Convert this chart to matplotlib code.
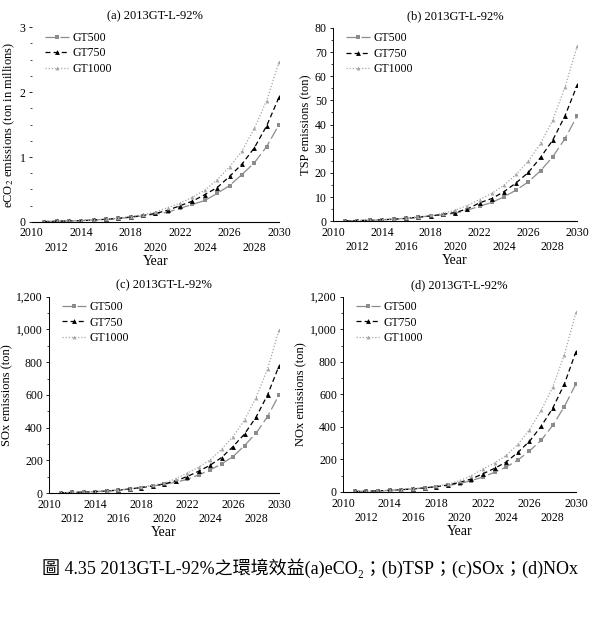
import matplotlib
matplotlib.use("Agg")
import matplotlib.pyplot as plt
from matplotlib.ticker import AutoMinorLocator, FuncFormatter

plt.rcParams['font.family'] = ['Liberation Serif', 'Noto Sans CJK TC', 'DejaVu Serif']
plt.rcParams['mathtext.fontset'] = 'stix'

years = list(range(2011, 2031))
series_names = ["GT500", "GT750", "GT1000"]

# (a) eCO2, ton in millions
eco2_500 = [0.005, 0.01, 0.015, 0.02, 0.03, 0.04, 0.055, 0.07, 0.095, 0.12,
            0.15, 0.21, 0.27, 0.33, 0.44, 0.56, 0.73, 0.91, 1.16, 1.50]
eco2_750 = [0.005, 0.01, 0.015, 0.02, 0.03, 0.04, 0.055, 0.075, 0.10, 0.13,
            0.18, 0.25, 0.32, 0.42, 0.53, 0.70, 0.89, 1.14, 1.48, 1.92]
eco2_1000 = [0.005, 0.01, 0.015, 0.02, 0.03, 0.045, 0.06, 0.08, 0.11, 0.15,
             0.22, 0.29, 0.38, 0.49, 0.65, 0.85, 1.09, 1.44, 1.87, 2.46]

# (b) TSP, ton
tsp_500 = [0.2, 0.3, 0.4, 0.6, 0.9, 1.2, 1.7, 2.2, 2.7, 3.3,
           4.6, 6.2, 7.8, 10.1, 12.9, 16.3, 20.9, 26.7, 34.2, 43.6]
tsp_750 = [0.2, 0.3, 0.4, 0.6, 0.9, 1.2, 1.7, 2.2, 2.9, 3.6,
           5.1, 7.6, 9.4, 12.2, 15.9, 20.2, 26.4, 33.6, 43.6, 56.3]
tsp_1000 = [0.2, 0.3, 0.4, 0.6, 0.9, 1.3, 1.8, 2.4, 3.2, 4.6,
            6.5, 9.0, 11.5, 14.9, 19.4, 24.9, 32.2, 41.9, 55.5, 72.4]

# (c) SOx, ton
sox_500 = [3, 5, 7, 10, 14, 19, 26, 35, 44, 55,
           67, 85, 112, 142, 179, 224, 291, 366, 468, 600]
sox_750 = [3, 5, 7, 10, 14, 19, 26, 35, 45, 57,
           75, 102, 134, 171, 218, 285, 362, 464, 600, 777]
sox_1000 = [3, 5, 7, 10, 14, 20, 27, 37, 48, 61,
            88, 122, 159, 203, 269, 346, 448, 584, 757, 997]

# (d) NOx, ton
nox_500 = [3, 5, 7, 10, 14, 19, 25, 32, 40, 51,
           70, 92, 121, 153, 196, 252, 317, 409, 525, 665]
nox_750 = [3, 5, 7, 10, 14, 19, 25, 33, 43, 59,
           80, 112, 145, 184, 243, 311, 403, 515, 663, 863]
nox_1000 = [3, 5, 7, 10, 15, 20, 27, 36, 48, 70,
            100, 141, 178, 225, 292, 382, 501, 644, 843, 1104]

titles = ["(a) 2013GT-L-92%", "(b) 2013GT-L-92%", "(c) 2013GT-L-92%", "(d) 2013GT-L-92%"]
ylabels = ["eCO$_2$ emissions (ton in millions)", "TSP emissions (ton)",
           "SOx emissions (ton)", "NOx emissions (ton)"]
ymaxes = [3, 80, 1200, 1200]
ysteps = [1, 10, 200, 200]
caption = "圖 4.35 2013GT-L-92%之環境效益(a)eCO₂；(b)TSP；(c)SOx；(d)NOx"

panel_data = [
    [eco2_500, eco2_750, eco2_1000],
    [tsp_500, tsp_750, tsp_1000],
    [sox_500, sox_750, sox_1000],
    [nox_500, nox_750, nox_1000],
]

# style per series: color, linestyle, marker, marker size
styles = [
    ("#8c8c8c", (0, (9, 3)), "s", 3.2),
    ("#000000", (0, (4, 2.5)), "^", 3.5),
    ("#a6a6a6", (0, (1, 1.5)), "^", 2.8),
]

positions = [
    [0.053, 0.650, 0.412, 0.307],
    [0.555, 0.651, 0.407, 0.305],
    [0.082, 0.222, 0.383, 0.310],
    [0.572, 0.224, 0.388, 0.308],
]

fig = plt.figure(figsize=(6.0, 6.34), dpi=100)

xlabels = []
for yr in range(2010, 2031, 2):
    if (yr - 2010) % 4 == 0:
        xlabels.append(str(yr))
    else:
        xlabels.append("\n" + str(yr))

for i in range(4):
    ax = fig.add_axes(positions[i])
    for j in range(3):
        color, ls, mk, ms = styles[j]
        ax.plot(years, panel_data[i][j], color=color, linestyle=ls, linewidth=0.9,
                marker=mk, markersize=ms, markeredgewidth=0, label=series_names[j])

    ax.set_xlim(2010, 2030)
    ax.set_ylim(0, ymaxes[i])
    ax.set_xticks(range(2010, 2031, 2))
    ax.set_xticklabels(xlabels, fontsize=8.5, linespacing=1.25)
    ax.set_yticks([v * ysteps[i] for v in range(ymaxes[i] // ysteps[i] + 1)])
    if i >= 2:
        ax.yaxis.set_major_formatter(FuncFormatter(lambda v, p: f"{int(v):,}"))
    ax.yaxis.set_minor_locator(AutoMinorLocator(4 if i == 0 else 2))
    ax.tick_params(axis='y', labelsize=8.5, length=2.5, width=0.6, pad=2)
    ax.tick_params(axis='y', which='minor', length=1.5, width=0.5)
    ax.tick_params(axis='x', length=0, pad=4)

    for side in ["top", "right"]:
        ax.spines[side].set_visible(False)
    ax.spines["left"].set_linewidth(0.7)
    ax.spines["bottom"].set_linewidth(0.8)
    if i == 0:
        ax.spines["left"].set_visible(False)

    ax.set_title(titles[i], fontsize=9, pad=6)
    ax.set_xlabel("Year", fontsize=10, labelpad=1)
    ax.set_ylabel(ylabels[i], fontsize=9, labelpad=2)
    ax.legend(loc="upper left", frameon=False, fontsize=8.5, handlelength=2.0,
              handletextpad=0.3, labelspacing=0.3, borderaxespad=0.3,
              bbox_to_anchor=(0.02, 1.02))

fig.text(0.07, 0.104, caption, fontsize=13.0, ha="left", va="center")

fig.savefig("out.png", dpi=100, facecolor="white")
